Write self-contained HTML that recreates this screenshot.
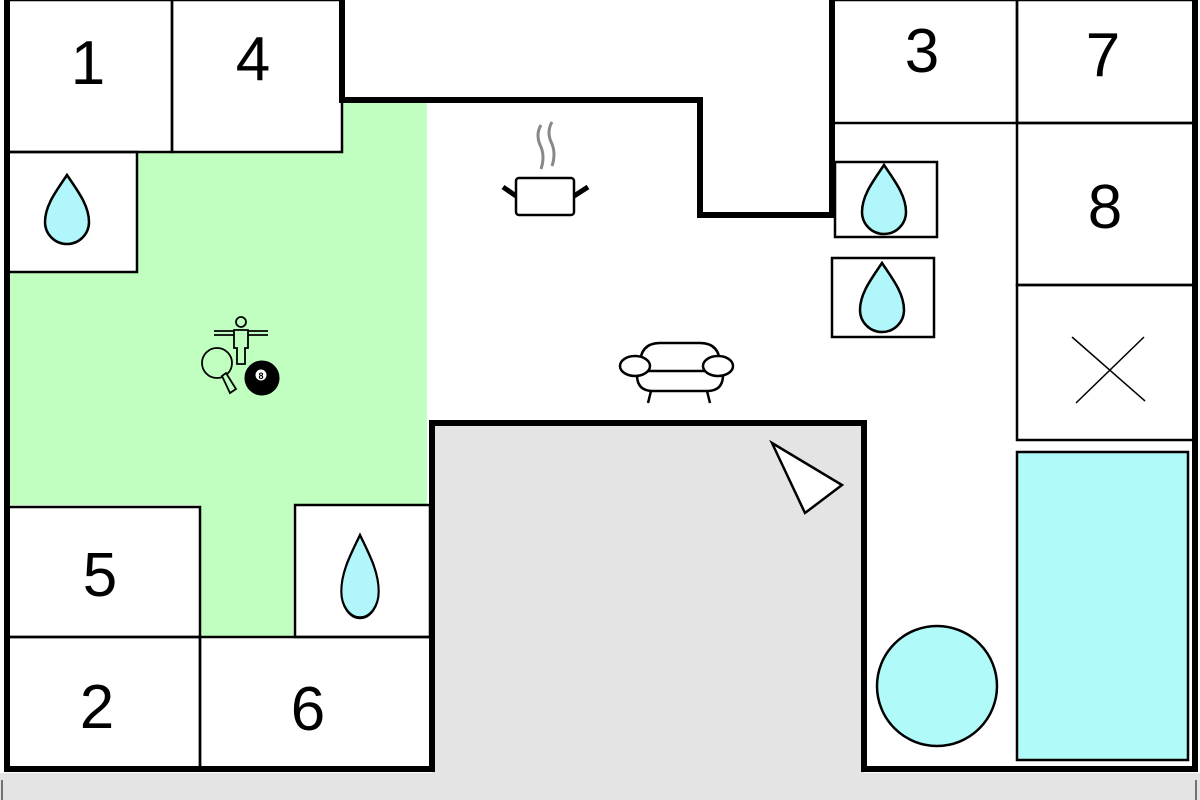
<!DOCTYPE html>
<html><head><meta charset="utf-8"><style>
html,body{margin:0;padding:0;background:#fff;}
svg{display:block;}
text{font-family:"Liberation Sans",sans-serif;font-size:62px;fill:#000;text-anchor:middle;}
</style></head><body>
<svg width="1200" height="800" viewBox="0 0 1200 800" xmlns="http://www.w3.org/2000/svg">
<defs>
<path id="drop" d="M0,-35 C10,-20 22,-5 22,12 A22,22 0 0 1 -22,12 C-22,-5 -10,-20 0,-35 Z" fill="#b0f6fa" stroke="#000" stroke-width="2.5"/>
</defs>
<rect x="0" y="773" width="1200" height="27" fill="#e4e4e4"/>
<line x1="2" y1="780" x2="2" y2="800" stroke="#000" stroke-width="1"/>
<line x1="1196" y1="780" x2="1196" y2="800" stroke="#000" stroke-width="1"/>
<rect x="432" y="423" width="432" height="352" fill="#e4e4e4"/>
<path d="M342,103 H427 V505 H293 V637 H200 V505 H7 V272 H137 V152 H342 Z" fill="#c0ffc0"/>
<g fill="none" stroke="#000" stroke-width="2.5">
<rect x="7" y="0" width="165" height="152"/>
<rect x="172" y="0" width="170" height="152"/>
<rect x="7" y="152" width="130" height="120"/>
<rect x="7" y="507" width="193" height="130"/>
<rect x="295" y="505" width="135" height="132"/>
<rect x="7" y="637" width="193" height="133"/>
<rect x="200" y="637" width="232" height="133"/>
<rect x="832" y="0" width="185" height="123"/>
<rect x="1017" y="0" width="178" height="123"/>
<rect x="1017" y="123" width="178" height="162"/>
<rect x="1017" y="285" width="178" height="155"/>
<rect x="835" y="162" width="102" height="75"/>
<rect x="832" y="258" width="102" height="79"/>
<line x1="1072" y1="337" x2="1145" y2="401" stroke-width="1.5"/>
<line x1="1076" y1="403" x2="1144" y2="337" stroke-width="1.5"/>
</g>
<rect x="1017" y="452" width="171" height="308" fill="#b0fafa" stroke="#000" stroke-width="2.5"/>
<ellipse cx="937" cy="686" rx="60" ry="60" fill="#b0fafa" stroke="#000" stroke-width="2.5"/>
<polygon points="772,443 842,485 805,513" fill="#fff" stroke="#000" stroke-width="2.5"/>
<g fill="none" stroke="#000" stroke-width="6" stroke-linejoin="miter">
<line x1="7" y1="0" x2="7" y2="772"/>
<line x1="1195" y1="0" x2="1195" y2="772"/>
<polyline points="342,0 342,100 700,100 700,215 832,215 832,0"/>
<polyline points="7,769 432,769 432,423 864,423 864,769 1195,769"/>
</g>
<use href="#drop" x="67" y="210"/>
<use href="#drop" x="884" y="200"/>
<use href="#drop" x="882" y="298"/>
<g transform="translate(360,577) scale(0.85,1.2)"><use href="#drop"/></g>
<text x="88" y="84">1</text>
<text x="253" y="80">4</text>
<text x="922" y="72">3</text>
<text x="1103" y="76">7</text>
<text x="1105" y="228">8</text>
<text x="100" y="596">5</text>
<text x="97" y="728">2</text>
<text x="308" y="730">6</text>
<g fill="none" stroke="#000">
<path d="M541,125 q-6,10 0,22 q4,10 0,22" stroke="#888" stroke-width="3"/>
<path d="M552,122 q-6,10 0,22 q4,10 0,22" stroke="#888" stroke-width="3"/>
<rect x="516" y="178" width="58" height="37" rx="3" stroke-width="2.5" fill="#fff"/>
<line x1="503" y1="187" x2="516" y2="196" stroke-width="5"/>
<line x1="588" y1="187" x2="574" y2="196" stroke-width="5"/>
<g stroke-width="2.5">
<path d="M640,365 q0,-22 20,-22 h40 q20,0 20,22"/>
<path d="M637,375 q0,16 16,16 h54 q16,0 16,-16"/>
<line x1="647" y1="371" x2="711" y2="371"/>
<ellipse cx="635" cy="366" rx="15" ry="10" fill="#fff"/>
<ellipse cx="718" cy="366" rx="15" ry="10" fill="#fff"/>
<line x1="651" y1="391" x2="648" y2="403"/>
<line x1="707" y1="391" x2="710" y2="403"/>
</g>
<g stroke-width="1.8">
<line x1="214" y1="331" x2="268" y2="331"/>
<line x1="214" y1="335" x2="268" y2="335"/>
<circle cx="241" cy="322" r="5" fill="#c0ffc0"/>
<path d="M234,330 h14 v18 h-3 v16 h-8 v-16 h-3 z" fill="#c0ffc0"/>
<circle cx="217" cy="363" r="15" fill="#c0ffc0"/>
<path d="M222,376 l4,-3 l10,16 l-6,4 z" fill="#c0ffc0"/>
</g>
<circle cx="262" cy="378" r="17" fill="#000"/>
<circle cx="261" cy="375" r="6" fill="#fff"/>
</g>
<text x="261" y="379" style="font-size:9px;font-weight:bold">8</text>
</svg>
</body></html>
